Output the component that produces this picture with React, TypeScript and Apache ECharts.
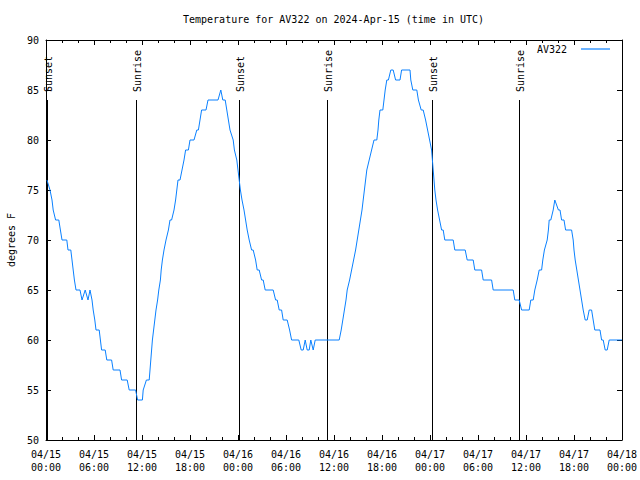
import React, { useEffect, useRef } from "react";
import * as echarts from "echarts";

// Hours since 2024-04-15 00:00 UTC
const hours = [
  0.12, 0.5, 0.75, 0.9, 1.2, 1.6, 1.8, 2.0, 2.6, 2.75, 3.1, 3.25, 3.4, 3.55, 3.75, 4.25, 4.5, 4.9, 5.25, 5.5,
  5.75, 5.9, 6.1, 6.25, 6.65, 6.8, 6.95, 7.4, 7.6, 8.2, 8.4, 9.25, 9.45, 10.15, 10.4, 11.2, 11.45, 12.05, 12.15, 12.55,
  12.9, 13.0, 13.1, 13.2, 13.3, 13.45, 13.6, 13.75, 13.95, 14.1, 14.3, 14.4, 14.55, 14.75, 15.0, 15.3, 15.5, 15.7, 16.0, 16.2,
  16.35, 16.5, 16.75, 17.0, 17.25, 17.45, 17.8, 18.0, 18.5, 18.85, 19.05, 19.25, 19.45, 20.0, 20.25, 21.5, 21.85, 22.1, 22.4, 22.6,
  22.8, 23.0, 23.4, 23.55, 23.85, 24.0, 24.15, 24.3, 24.5, 24.75, 24.95, 25.15, 25.4, 25.7, 25.9, 26.2, 26.4, 26.65, 26.95, 27.15,
  27.4, 28.4, 28.7, 28.9, 29.15, 29.45, 29.65, 30.15, 30.45, 30.7, 31.6, 31.9, 32.15, 32.4, 32.65, 32.9, 33.1, 33.4, 33.65, 36.65,
  36.9, 37.1, 37.3, 37.5, 37.65, 37.95, 38.2, 38.45, 38.7, 38.9, 39.1, 39.3, 39.5, 39.65, 39.8, 39.95, 40.1, 40.4, 40.7, 41.0,
  41.35, 41.5, 41.6, 41.75, 42.1, 42.25, 42.4, 42.6, 42.8, 43.1, 43.4, 43.7, 44.25, 44.45, 45.5, 45.6, 45.85, 46.35, 46.55, 46.9,
  47.15, 47.45, 47.7, 47.95, 48.2, 48.3, 48.4, 48.5, 48.6, 48.75, 48.95, 49.2, 49.45, 49.65, 49.85, 50.9, 51.1, 52.4, 52.65, 53.4,
  53.6, 54.45, 54.65, 55.7, 55.9, 58.4, 58.6, 59.15, 59.45, 60.4, 60.6, 60.9, 61.1, 61.4, 61.65, 61.95, 62.1, 62.3, 62.65, 62.8,
  62.9, 63.1, 63.4, 63.6, 64.05, 64.25, 64.45, 64.75, 64.95, 65.7, 65.9, 66.0, 66.15, 66.35, 66.55, 66.75, 66.95, 67.15, 67.4, 67.65,
  67.9, 68.2, 68.4, 68.6, 69.25, 69.45, 69.65, 69.9, 70.15, 70.4, 72.0,
];

const tempsF = [
  76, 75, 74, 73, 72, 72, 71, 70, 70, 69, 69, 68, 67, 66, 65, 65, 64, 65, 64, 65,
  64, 63, 62, 61, 61, 60, 59, 59, 58, 58, 57, 57, 56, 56, 55, 55, 54, 54, 55, 56,
  56, 57, 58, 59, 60, 61, 62, 63, 64, 65, 66, 67, 68, 69, 70, 71, 72, 72, 73, 74,
  75, 76, 76, 77, 78, 79, 79, 80, 80, 81, 81, 82, 83, 83, 84, 84, 85, 84, 84, 83,
  82, 81, 80, 79, 78, 77, 76, 75, 74, 73, 72, 71, 70, 69, 69, 68, 67, 67, 66, 66,
  65, 65, 64, 64, 63, 63, 62, 62, 61, 60, 60, 59, 59, 60, 59, 59, 60, 59, 60, 60,
  61, 62, 63, 64, 65, 66, 67, 68, 69, 70, 71, 72, 73, 74, 75, 76, 77, 78, 79, 80,
  80, 81, 82, 83, 83, 84, 85, 86, 86, 87, 87, 86, 86, 87, 87, 86, 85, 85, 84, 83,
  83, 82, 81, 80, 79, 78, 77, 76, 75, 74, 73, 72, 71, 71, 70, 70, 69, 69, 68, 68,
  67, 67, 66, 66, 65, 65, 64, 64, 63, 63, 64, 64, 65, 66, 67, 67, 68, 69, 70, 71,
  72, 72, 73, 74, 73, 73, 72, 72, 71, 71, 70, 69, 68, 67, 66, 65, 64, 63, 62, 62,
  63, 63, 62, 61, 61, 60, 60, 59, 59, 60, 60,
];

const sunEventHours = [0.11, 11.21, 24.16, 35.16, 48.21, 59.16];
const sunEventLabels = ["Sunset", "Sunrise", "Sunset", "Sunrise", "Sunset", "Sunrise"];

const dayLabels = ["04/15", "04/16", "04/17", "04/18"];
const titleText = "Temperature for AV322 on 2024-Apr-15 (time in UTC)";
const seriesName = "AV322";
const yAxisName = "degrees F";

const FONT = '"DejaVu Sans Mono", "Liberation Mono", monospace';

export default function App() {
  const ref = useRef<HTMLDivElement>(null);
  useEffect(() => {
    if (!ref.current) return;
    const chart = echarts.init(ref.current, null, { renderer: "svg" });
    const data = hours.map((h, i) => [h, tempsF[i]]);
    const fmt = (v: number) => {
      const d = Math.floor(v / 24 + 1e-9);
      const hh = Math.round(v - d * 24);
      return `${dayLabels[d]}\n${String(hh).padStart(2, "0")}:00`;
    };
    const tickCommon = {
      axisLine: { show: true, onZero: false, lineStyle: { color: "#000", width: 1 } },
      axisTick: { show: true, inside: true, length: 5, lineStyle: { color: "#000", width: 1 } },
      splitLine: { show: false },
    };
    chart.setOption({
      animation: false,
      backgroundColor: "#fff",
      title: {
        text: titleText,
        left: 183,
        top: 14,
        padding: 0,
        textStyle: { fontFamily: FONT, fontSize: 10, fontWeight: "normal", color: "#000" },
      },
      legend: {
        data: [seriesName],
        right: 30,
        top: 44,
        padding: 0,
        align: "right",
        icon: "rect",
        itemWidth: 29,
        itemHeight: 1.2,
        textStyle: { fontFamily: FONT, fontSize: 10, color: "#000", padding: [0, 9, 0, 0] },
      },
      grid: {
        left: 46,
        right: 18,
        top: 40,
        bottom: 40,
        show: false,
        containLabel: false,
        outerBoundsMode: "none",
      },
      xAxis: [
        {
          type: "value",
          min: 0,
          max: 72,
          interval: 6,
          position: "bottom",
          ...tickCommon,
          minorTick: { show: true, splitNumber: 3, length: 3, lineStyle: { color: "#000" } },
          minorSplitLine: { show: false },
          axisLabel: {
            formatter: fmt,
            fontFamily: FONT,
            fontSize: 10,
            color: "#000",
            lineHeight: 13,
            margin: 8,
            showMinLabel: true,
            showMaxLabel: true,
            hideOverlap: false,
          },
        },
        {
          type: "value",
          min: 0,
          max: 72,
          interval: 6,
          position: "top",
          ...tickCommon,
          minorTick: { show: true, splitNumber: 3, length: 3, lineStyle: { color: "#000" } },
          axisLabel: { show: false },
        },
      ],
      yAxis: [
        {
          type: "value",
          min: 50,
          max: 90,
          interval: 5,
          position: "left",
          ...tickCommon,
          name: yAxisName,
          nameLocation: "middle",
          nameGap: 30,
          nameRotate: 90,
          nameTextStyle: { fontFamily: FONT, fontSize: 10, color: "#000" },
          axisLabel: { fontFamily: FONT, fontSize: 10, color: "#000", margin: 7 },
        },
        {
          type: "value",
          min: 50,
          max: 90,
          interval: 5,
          position: "right",
          ...tickCommon,
          axisLabel: { show: false },
        },
      ],
      series: [
        {
          type: "custom",
          name: "sun",
          xAxisIndex: 0,
          yAxisIndex: 0,
          silent: true,
          data: sunEventHours.map((h) => [h, 50]),
          encode: { x: 0, y: 1 },
          renderItem: (params: any, api: any) => {
            const t = api.value(0);
            const base = api.coord([t, 50]);
            const top = api.coord([t, 84]);
            const lab = api.coord([t, 84.8]);
            const x = Math.round(base[0]) + 0.5;
            return {
              type: "group",
              children: [
                {
                  type: "line",
                  shape: { x1: x, y1: base[1], x2: x, y2: top[1] },
                  style: { stroke: "#000", lineWidth: 1 },
                },
                {
                  type: "text",
                  x: x + 0.5,
                  y: lab[1],
                  rotation: Math.PI / 2,
                  style: {
                    text: sunEventLabels[params.dataIndex],
                    font: `10px ${FONT}`,
                    fill: "#000",
                    align: "left",
                    verticalAlign: "middle",
                  },
                },
              ],
            };
          },
          z: 3,
        },
        {
          type: "line",
          name: seriesName,
          data,
          showSymbol: false,
          symbol: "none",
          color: "#0a80ff",
          lineStyle: { color: "#0a80ff", width: 1 },
          z: 4,
        },
      ],
    });
    return () => chart.dispose();
  }, []);
  return (
    <div
      ref={ref}
      style={{ position: "absolute", left: 0, top: 0, width: 640, height: 480, background: "#fff" }}
    />
  );
}
